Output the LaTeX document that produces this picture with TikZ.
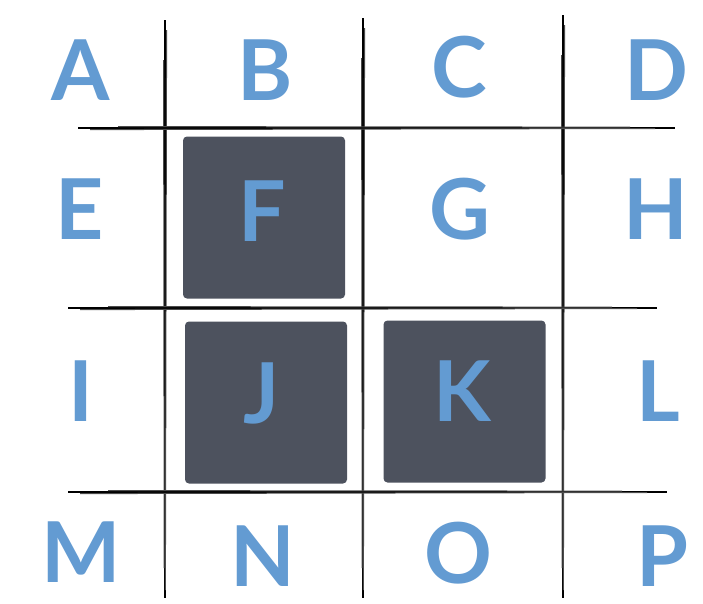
\documentclass[tikz,border=0pt]{standalone}
\usepackage{fontspec}
\setmainfont{Lato}
\usetikzlibrary{positioning}
\definecolor{glyph-blue}{HTML}{639BD2}
\definecolor{cell-dark}{HTML}{4D525E}

\begin{document}
\begin{tikzpicture}[x=1pt,y=-1pt,
  glyph/.style={text=glyph-blue,font=\bfseries\fontsize{84}{84}\selectfont,inner sep=0pt,text height=62pt,text depth=0pt},
  darkcell/.style={fill=cell-dark,rounded corners=4pt,minimum width=162pt,minimum height=162pt,inner sep=0pt},
  pencil/.style={black,line width=2.4pt},
  pencilthin/.style={black!70,line width=1pt}]
  \useasboundingbox (0,0) rectangle (703,603);
  % grid strokes
  \foreach \x/\a/\b in {165/20/598,363/18/598,563/15/598}{
    \draw[pencil] (\x,\a)--(\x,\b);
    \draw[pencilthin] (\x+1.6,\a+10)--(\x+0.4,\b-8);
    \draw[pencilthin] (\x-1.4,\a+40)--(\x-0.8,\b-30);
  }
  \foreach \y/\a/\b in {128/78/675,308/68/657,492/68/667}{
    \draw[pencil] (\a,\y)--(\b,\y);
    \draw[pencilthin] (\a+12,\y+1.6)--(\b-20,\y+0.5);
    \draw[pencilthin] (\a+40,\y-1.4)--(\b-45,\y-0.9);
  }
  % filled cells
  \node[darkcell] (cellF) at (264,217.5) {};
  \node[darkcell] (cellJ) at (266,402.5) {};
  \node[darkcell] (cellK) at (464.5,401.5) {};
  % letters
  \foreach \name/\x/\y in {A/81/69,B/265/69,C/459/66,D/656/69,
                          E/80/208,F/262/210,G/460/208,H/656/208,
                          I/81/390,J/262/392,K/462/390,L/658/390,
                          M/81/551,N/263/555,O/458/552,P/662/555}
    \node[glyph] (\name) at (\x,\y) {\name};
\end{tikzpicture}
\end{document}
